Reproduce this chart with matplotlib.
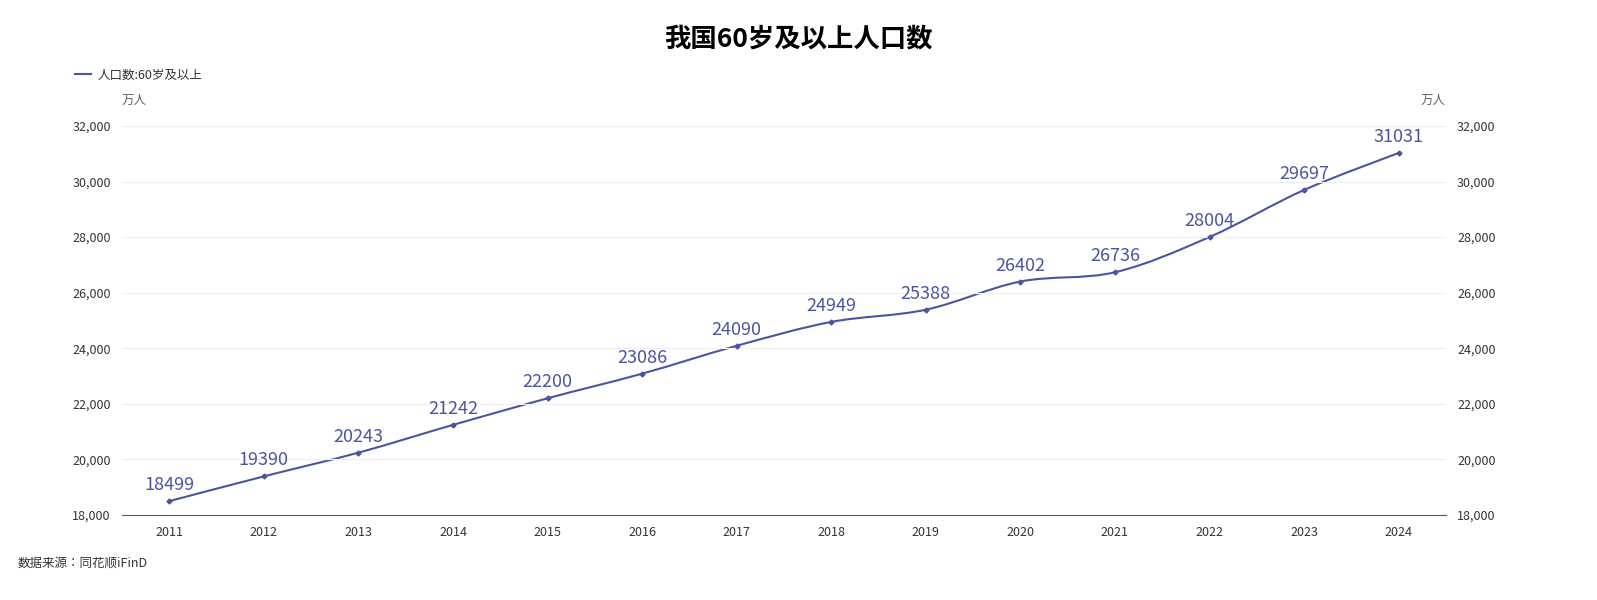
import matplotlib.pyplot as plt
from matplotlib.path import Path
from matplotlib.patches import PathPatch

plt.rcParams['font.family'] = 'sans-serif'
plt.rcParams['font.sans-serif'] = ['Noto Sans CJK SC', 'Noto Sans CJK JP', 'Noto Sans CJK TC',
                                   'Noto Sans CJK KR', 'DejaVu Sans']

years = [2011, 2012, 2013, 2014, 2015, 2016, 2017, 2018, 2019, 2020, 2021, 2022, 2023, 2024]
pop = [18499, 19390, 20243, 21242, 22200, 23086, 24090, 24949, 25388, 26402, 26736, 28004, 29697, 31031]
yticks = [18000, 20000, 22000, 24000, 26000, 28000, 30000, 32000]

color = '#4a55a2'

fig = plt.figure(figsize=(15.97, 6), dpi=100)
ax = fig.add_axes([0.0764, 0.1417, 0.829, 0.6483])

# smooth curve through the points (Catmull-Rom as cubic Bezier)
t = 0.5 / 3
verts = [(years[0], pop[0])]
codes = [Path.MOVETO]
n = len(years)
for i in range(n - 1):
    p0 = (years[max(i - 1, 0)], pop[max(i - 1, 0)])
    p1 = (years[i], pop[i])
    p2 = (years[i + 1], pop[i + 1])
    p3 = (years[min(i + 2, n - 1)], pop[min(i + 2, n - 1)])
    c1 = (p1[0] + (p2[0] - p0[0]) * t, p1[1] + (p2[1] - p0[1]) * t)
    c2 = (p2[0] - (p3[0] - p1[0]) * t, p2[1] - (p3[1] - p1[1]) * t)
    verts += [c1, c2, p2]
    codes += [Path.CURVE4] * 3
ax.add_patch(PathPatch(Path(verts, codes), fill=False, edgecolor=color, lw=1.5))
ax.plot(years, pop, 'D', color=color, ms=2.5)
line_handle, = ax.plot([], [], color=color, lw=1.5)

for x, y in zip(years, pop):
    ax.text(x, y + 250, str(y), ha='center', va='bottom', fontsize=13, color=color)

ax.set_xlim(2010.5, 2024.5)
ax.set_ylim(18000, 32000)
ax.set_xticks(years)
ax.set_xticklabels([str(y) for y in years], fontsize=9, color='#333333')
ax.set_yticks(yticks)
ax.set_yticklabels([f'{v:,}' for v in yticks], fontsize=9, color='#333333')
ax.tick_params(axis='both', length=0, pad=8)
ax.tick_params(axis='y', labelright=True)
ax.grid(axis='y', color='#eeeeee', lw=0.8)
for s in ['top', 'left', 'right']:
    ax.spines[s].set_visible(False)
ax.spines['bottom'].set_color(color)

fig.text(0.5, 0.935, '我国60岁及以上人口数', ha='center', va='center', fontsize=19, fontweight='bold')
fig.legend([line_handle], ['人口数:60岁及以上'], loc='center left', bbox_to_anchor=(0.04, 0.875),
           frameon=False, fontsize=9, handlelength=1.3, handletextpad=0.5, labelcolor='#333333')
fig.text(0.0764, 0.833, '万人', ha='left', va='center', fontsize=9, color='#666666')
fig.text(0.9054, 0.833, '万人', ha='right', va='center', fontsize=9, color='#666666')
fig.text(0.011, 0.062, '数据来源：同花顺iFinD', ha='left', va='center', fontsize=9, color='#333333')

fig.savefig('out.png', dpi=100)
